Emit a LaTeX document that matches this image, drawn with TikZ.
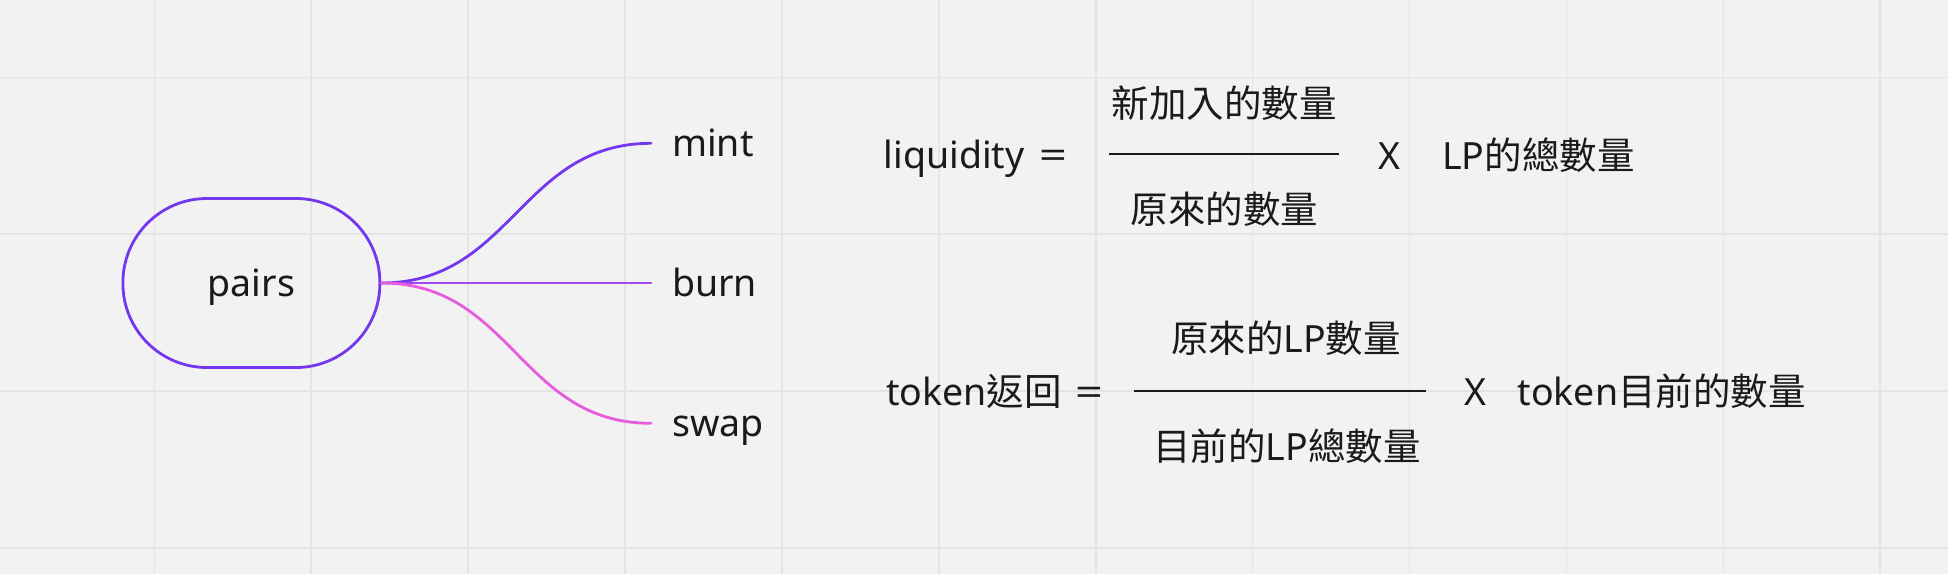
\documentclass[tikz,border=0pt]{standalone}
\usepackage{fontspec}
\usepackage{graphicx}
\setmainfont{Noto Sans}
\newfontfamily\cjk{Noto Sans CJK TC}
\usetikzlibrary{shapes.geometric, arrows}

\definecolor{canvas}{HTML}{F2F2F2}
\definecolor{gridline}{HTML}{E4E4E4}
\definecolor{ink}{HTML}{1A1A1A}
\definecolor{mapviolet}{HTML}{7337F0}
\definecolor{mappurple}{HTML}{A846F0}
\definecolor{mappink}{HTML}{E65CDC}

\newcommand{\wideeq}{\scalebox{1.3}[1]{=}}

\begin{document}
\begin{tikzpicture}[
        x=1pt, y=-1pt,
        every node/.style={font=\fontsize{37.5}{45}\selectfont, text=ink},
        hub/.style={rectangle, draw=mapviolet, line width=2.8pt, rounded corners=84pt, minimum width=257pt, minimum height=169pt, text height=27pt, text depth=0pt, inner sep=0pt},
        leaf/.style={anchor=west, inner xsep=21pt, inner ysep=0pt, text height=27pt, text depth=0pt},
        term/.style={anchor=base west, inner sep=0pt},
        part/.style={anchor=base, inner sep=0pt},
        rule/.style={draw=ink, line width=1.6pt},
        branch/.style={line width=2.8pt, line cap=round}
    ]
        \useasboundingbox (0,0) rectangle (1948,574);

        % Board
        \fill[canvas] (0,0) rectangle (1948,574);
        \foreach \gx in {0,...,11}
            \draw[gridline, line width=1.6pt] ({154.3+156.9*\gx},0) -- ++(0,574);
        \foreach \gy in {0,...,3}
            \draw[gridline, line width=1.6pt] (0,{77.3+156.9*\gy}) -- ++(1948,0);

        % Nodes
        \node (pairs) at (251.4, 283) [hub] {pairs};
        \node (mint) at (651, 143.3) [leaf] {mint};
        \node (burn) at (651, 283) [leaf] {burn};
        \node (swap) at (651, 423.3) [leaf] {swap};

        % Arrows
        \draw[branch, mapviolet] (pairs.east) to[out=0, in=180, looseness=1.1] (mint.west);
        \draw[branch, mappurple] (pairs.east) -- (burn.west);
        \draw[branch, mappink] (pairs.east) to[out=0, in=180, looseness=1.1] (swap.west);

        % Formulas
        \node (liq) at (883.7, 168.5) [term] {liquidity};
        \node (eqa) at (1053, 168.5) [part] {\wideeq};
        \node (numa) at (1224, 117.5) [part] {\cjk 新加入的數量};
        \node (dena) at (1224.5, 223) [part] {\cjk 原來的數量};
        \draw[rule] (1109.3, 154) -- (1338.6, 154);
        \node (timesa) at (1389, 169) [part] {X};
        \node (resa) at (1442, 169) [term] {LP{\cjk 的總數量}};

        \node (tok) at (886, 405.5) [term] {token{\cjk 返回}};
        \node (eqb) at (1089, 405.5) [part] {\wideeq};
        \node (numb) at (1286, 352.5) [part] {{\cjk 原來的}LP{\cjk 數量}};
        \node (denb) at (1287, 460.5) [part] {{\cjk 目前的}LP{\cjk 總數量}};
        \draw[rule] (1134.3, 391) -- (1425.7, 391);
        \node (timesb) at (1475, 405.5) [part] {X};
        \node (resb) at (1517.5, 405.5) [term] {token{\cjk 目前的數量}};

    \end{tikzpicture}
\end{document}
